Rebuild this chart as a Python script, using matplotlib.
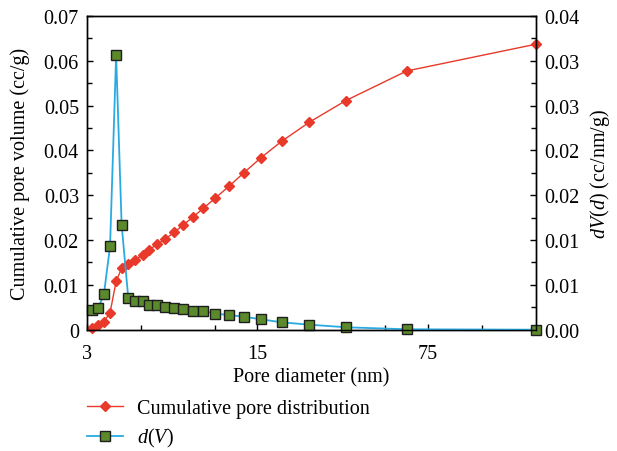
import numpy as np
import matplotlib
matplotlib.use('Agg')
import matplotlib.pyplot as plt
from matplotlib.ticker import FixedLocator, FuncFormatter, NullFormatter
from matplotlib.lines import Line2D

plt.rcParams['font.family'] = ['Liberation Serif', 'DejaVu Serif']
plt.rcParams['mathtext.fontset'] = 'custom'
plt.rcParams['mathtext.it'] = 'Liberation Serif:italic'
plt.rcParams['mathtext.rm'] = 'Liberation Serif'

# pore diameters (nm), shared by both series
diameter = [3.13, 3.33, 3.51, 3.72, 3.94, 4.15, 4.42, 4.72, 5.07, 5.39,
            5.80, 6.27, 6.83, 7.40, 8.13, 8.99, 10.07, 11.46, 13.16, 15.46,
            18.85, 24.47, 34.53, 61.5, 208.2]
# cumulative pore volume (cc/g), left axis
cumulative = [0.00038, 0.00105, 0.00179, 0.00379, 0.0108, 0.0137, 0.01459,
              0.01562, 0.01667, 0.01785, 0.01906, 0.02024, 0.02173, 0.0233,
              0.02508, 0.02709, 0.02939, 0.032, 0.03497, 0.03831, 0.04204,
              0.04628, 0.0511, 0.05773, 0.06369]
# dV(d) (cc/nm/g), right axis
dv = [0.00251, 0.00281, 0.00451, 0.01063, 0.03503, 0.01339, 0.00404, 0.0037,
      0.00362, 0.00319, 0.00315, 0.00293, 0.00273, 0.0026, 0.00242, 0.00238,
      0.00204, 0.00187, 0.00166, 0.00133, 0.00094, 0.00064, 0.00031, 0.00005,
      0.0]

x_major = [3, 15, 75]
x_minor = [5, 10, 50, 125]

red = '#e8392a'
blue = '#29abe2'
green = '#5b8a2c'
fs = 14.5

fig = plt.figure(figsize=(6.17, 4.52), dpi=100)
ax = fig.add_axes([0.1415, 0.2684, 0.7272, 0.694])
ax2 = ax.twinx()

ax.plot(diameter, cumulative, color=red, lw=1.0, marker='D', ms=5,
        mfc=red, mec=red, clip_on=False)
ax2.plot(diameter, dv, color=blue, lw=1.3, marker='s', ms=7.5,
         mfc=green, mec='#1e1e1e', mew=1.0, clip_on=False)

ax.set_xscale('log')
ax.set_xlim(3, 209)
ax.xaxis.set_major_locator(FixedLocator(x_major))
ax.xaxis.set_major_formatter(FuncFormatter(lambda v, p: f'{v:g}'))
ax.xaxis.set_minor_locator(FixedLocator(x_minor))
ax.xaxis.set_minor_formatter(NullFormatter())

ax.set_ylim(0, 0.07)
ax.set_yticks(np.arange(0, 0.0701, 0.01))
ax.set_yticks(np.arange(0.005, 0.07, 0.01), minor=True)
ax.yaxis.set_major_formatter(FuncFormatter(lambda v, p: '0' if abs(v) < 1e-9 else f'{v:.2f}'))

ax2.set_ylim(0, 0.04)
rt = np.linspace(0, 0.04, 8)
ax2.set_yticks(rt)
ax2.set_yticks((rt[:-1] + rt[1:]) / 2, minor=True)
ax2.yaxis.set_major_formatter(FuncFormatter(lambda v, p: f'{v:.2f}'))

for a in (ax, ax2):
    a.tick_params(which='both', direction='in', labelsize=fs, width=1.0, pad=6)
    a.tick_params(which='major', length=4.5)
    a.tick_params(which='minor', length=3.5)
    for s in a.spines.values():
        s.set_linewidth(1.0)
ax.tick_params(axis='x', pad=10)

ax.set_xlabel('Pore diameter (nm)', fontsize=fs, labelpad=3)
ax.set_ylabel('Cumulative pore volume (cc/g)', fontsize=fs)
ax2.set_ylabel('$dV(d)$ (cc/nm/g)', fontsize=fs)
ax.yaxis.set_label_coords(-0.128, 0.5)
ax2.yaxis.set_label_coords(1.117, 0.5)

handles = [
    Line2D([], [], color=red, lw=1.0, marker='D', ms=5, mfc=red, mec=red),
    Line2D([], [], color=blue, lw=1.3, marker='s', ms=7.5, mfc=green, mec='#1e1e1e'),
]
fig.legend(handles, ['Cumulative pore distribution', '$d(V)$'],
           loc='upper left', bbox_to_anchor=(0.141, 0.115), frameon=False,
           fontsize=fs, handlelength=1.8, handletextpad=0.7,
           labelspacing=0.4, borderpad=0, borderaxespad=0)

fig.savefig('out.png', dpi=100)
